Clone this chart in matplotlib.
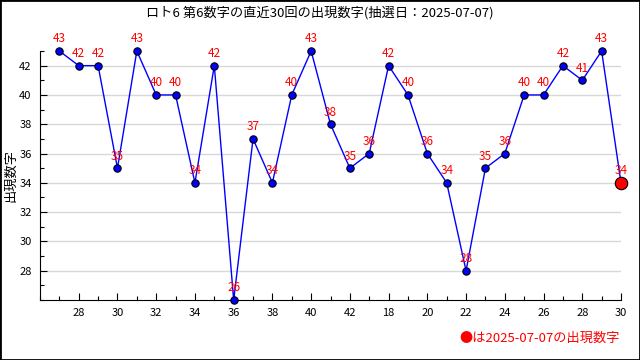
import matplotlib
matplotlib.use("Agg")
import matplotlib.pyplot as plt
from matplotlib.ticker import MultipleLocator

plt.rcParams['font.family'] = ['Noto Sans CJK JP', 'DejaVu Sans']

title = "ロト6 第6数字の直近30回の出現数字(抽選日：2025-07-07)"
values = [43, 42, 42, 35, 43, 40, 40, 34, 42, 26, 37, 34, 40, 43, 38,
          35, 36, 42, 40, 36, 34, 28, 35, 36, 40, 40, 42, 41, 43, 34]
positions = list(range(1, 31))
xtick_pos = [2, 4, 6, 8, 10, 12, 14, 16, 18, 20, 22, 24, 26, 28, 30]
xtick_labels = ["28", "30", "32", "34", "36", "38", "40", "42",
                "18", "20", "22", "24", "26", "28", "30"]
ylabel = "出現数字"
legend_text = "●は2025-07-07の出現数字"

fig = plt.figure(figsize=(6.4, 3.6), dpi=100)
ax = fig.add_axes([40/640, 1-300/360, 581/640, 249/360])

ax.plot(positions, values, color='#0000ff', lw=1, zorder=3, clip_on=False)
ax.scatter(positions[:-1], values[:-1], s=28, color='#0000ff', edgecolor='black', lw=0.8, zorder=4, clip_on=False)
ax.scatter(positions[-1:], values[-1:], s=80, color='#ff0000', edgecolor='black', lw=0.8, zorder=5, clip_on=False)
for x, v in zip(positions, values):
    ax.annotate(str(v), (x, v), xytext=(0, 4), textcoords='offset points',
                ha='center', va='bottom', color='#ff0000', fontsize=8.5, zorder=6)

ax.set_xlim(0, 30)
ax.set_ylim(26, 43)
ax.set_xticks(xtick_pos)
ax.set_xticklabels(xtick_labels)
ax.xaxis.set_minor_locator(MultipleLocator(1))
ax.set_yticks(range(28, 43, 2))
ax.yaxis.set_minor_locator(MultipleLocator(1))
ax.tick_params(axis='both', which='major', direction='in', length=5, labelsize=8, width=0.8, pad=6)
ax.tick_params(axis='both', which='minor', direction='in', length=3, width=0.8)
ax.grid(axis='y', which='major', color='#d8d8d8', lw=1)
ax.set_axisbelow(True)
for s in ['top', 'right']:
    ax.spines[s].set_visible(False)
ax.set_ylabel(ylabel, fontsize=9.5, labelpad=1)

fig.text(0.5, 1-13/360, title, ha='center', va='center', fontsize=9.5)
fig.text(620/640, 1-338/360, legend_text, ha='right', va='center', fontsize=9.5, color='#ff0000')

border = plt.Rectangle((0, 0), 1, 1, transform=fig.transFigure, fill=False, edgecolor='black', lw=2)
fig.patches.append(border)

fig.savefig("out.png", dpi=100)
